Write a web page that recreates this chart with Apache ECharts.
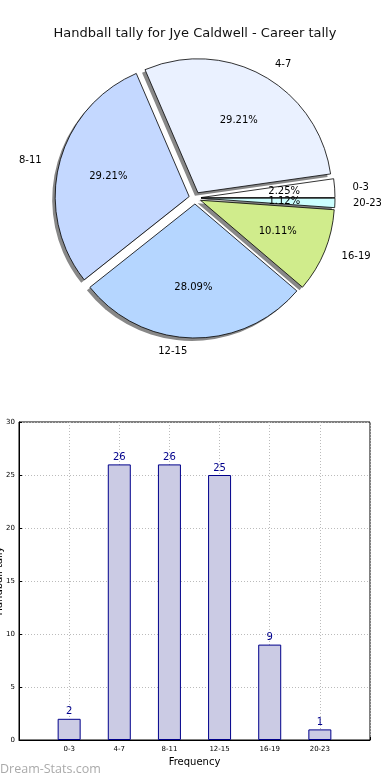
<!DOCTYPE html>
<html><head><meta charset="utf-8">
<script src="https://cdn.jsdelivr.net/npm/echarts@6/dist/echarts.min.js"></script>
<style>html,body{margin:0;padding:0;background:#fff}#c{width:390px;height:780px}</style>
</head><body><div id="c"></div>
<script>
var titleText = 'Handball tally for Jye Caldwell - Career tally';
var categories = ['0-3', '4-7', '8-11', '12-15', '16-19', '20-23'];
var counts = [2, 26, 26, 25, 9, 1];
var sliceColors = ['#ffffff', '#eaf1ff', '#c4d8ff', '#b5d6ff', '#d0ec8c', '#ccffff'];
var yTicks = [0, 5, 10, 15, 20, 25, 30];
var xName = 'Frequency';
var yName = 'Handball tally';

var FONT = 'DejaVu Sans';
var C = [195, 198], R = 134, OFF = 6;
var total = counts.reduce(function (a, b) { return a + b; }, 0);

function pieData(colorFn) {
  return categories.map(function (c, i) {
    return { name: c, value: counts[i], selected: true, itemStyle: { color: colorFn(i) } };
  });
}
var xCats = [''].concat(categories, ['']);
var barVals = [null].concat(counts, [null]);

function pieBase(extra) {
  var o = {
    type: 'pie', center: C, radius: R, clockwise: false, startAngle: 0,
    selectedMode: 'multiple', selectedOffset: OFF, silent: true, avoidLabelOverlap: false,
    labelLayout: { hideOverlap: false }, labelLine: { show: false }, emphasis: { disabled: true },
    label: { show: false }
  };
  for (var k in extra) o[k] = extra[k];
  return o;
}

var chart = echarts.init(document.getElementById('c'), null, { renderer: 'canvas' });
chart.setOption({
  animation: false,
  backgroundColor: '#fff',
  title: { text: titleText, left: 'center', top: 22, textStyle: { fontFamily: FONT, fontSize: 13, fontWeight: 'normal', color: '#111' } },
  grid: { left: 19, right: 20, top: 422, bottom: 40, show: true, borderColor: '#000', borderWidth: 1, outerBoundsMode: 'none', containLabel: false },
  xAxis: {
    type: 'category', data: xCats, boundaryGap: false,
    name: xName, nameLocation: 'middle', nameGap: 17,
    nameTextStyle: { fontFamily: FONT, fontSize: 10, color: '#000' },
    axisLine: { lineStyle: { color: '#000' } },
    axisTick: { inside: true, length: 3, lineStyle: { color: '#000' } },
    axisLabel: { interval: 0, fontFamily: FONT, fontSize: 7, color: '#000', margin: 6 },
    splitLine: { show: true, lineStyle: { color: '#bbb', type: [1, 2] } }
  },
  yAxis: {
    type: 'value', min: yTicks[0], max: yTicks[yTicks.length - 1], interval: yTicks[1] - yTicks[0],
    name: yName, nameLocation: 'middle', nameGap: 15, nameMoveOverlap: false,
    nameTextStyle: { fontFamily: FONT, fontSize: 10, color: '#000' },
    axisLine: { show: true, lineStyle: { color: '#000' } },
    axisTick: { show: true, inside: true, length: 3, lineStyle: { color: '#000' } },
    axisLabel: { fontFamily: FONT, fontSize: 7, color: '#000', margin: 4 },
    splitLine: { show: true, lineStyle: { color: '#bbb', type: [1, 2] } }
  },
  series: [
    pieBase({ center: [C[0] - 3, C[1] + 3], z: 1, data: pieData(function () { return '#888'; }) }),
    pieBase({ z: 2, data: pieData(function (i) { return sliceColors[i]; }), itemStyle: { borderColor: '#000', borderWidth: 0.8 } }),
    pieBase({
      z: 3, radius: [R * 0.2, R], data: pieData(function () { return 'rgba(0,0,0,0)'; }),
      label: {
        show: true, position: 'inside', fontFamily: FONT, fontSize: 10, color: '#000',
        formatter: function (p) { return (p.value / total * 100).toFixed(2) + '%'; }
      }
    }),
    pieBase({
      z: 3, data: pieData(function () { return 'rgba(0,0,0,0)'; }),
      label: { show: true, position: 'outside', formatter: '{b}', fontFamily: FONT, fontSize: 10, color: '#000' },
      labelLine: { show: false, length: 13, length2: 0 }
    }),
    {
      type: 'bar', data: barVals, barWidth: 23,
      itemStyle: { color: '#cbcbe4', borderColor: '#00008b', borderWidth: 1 },
      label: { show: true, position: 'top', distance: 2, fontFamily: FONT, fontSize: 10, color: '#00008b' },
      emphasis: { disabled: true }
    }
  ],
  graphic: [{
    type: 'text', left: 0, top: 763,
    style: { text: 'Dream-Stats.com', fontFamily: 'Open Sans', fontSize: 12.5, fill: '#aaa' }
  }]
});
</script></body></html>
